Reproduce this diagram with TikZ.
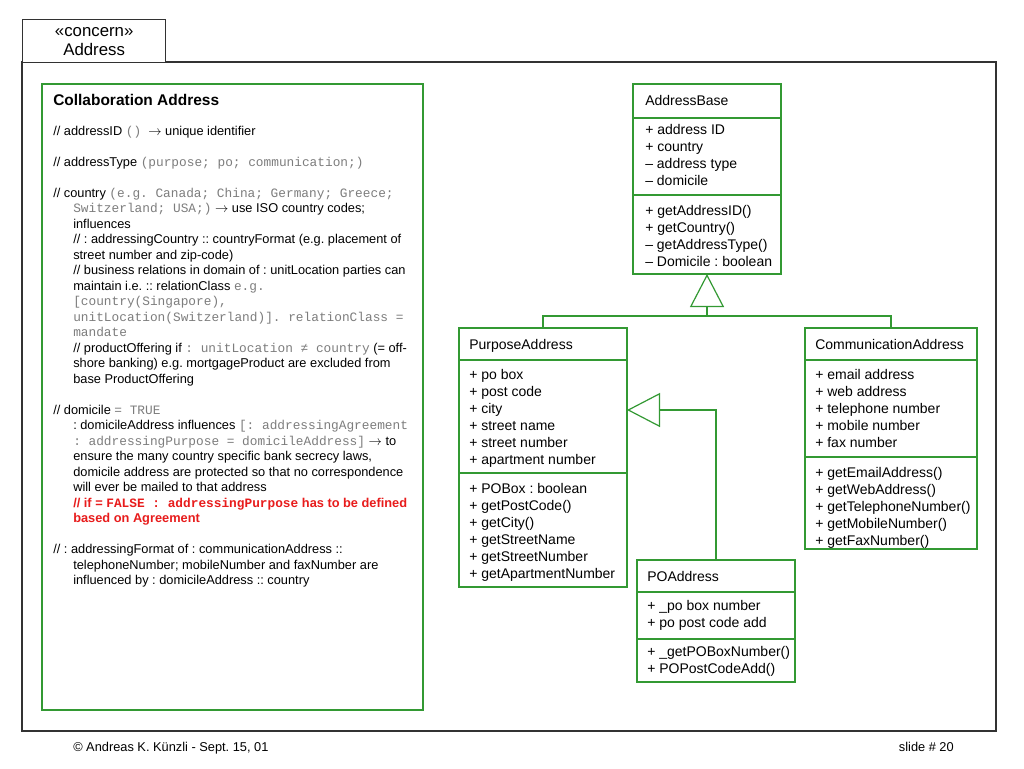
\documentclass[tikz,border=0pt]{standalone}
\usepackage{fontspec}
\setmainfont{Liberation Sans}
\setmonofont{Liberation Mono}
\usetikzlibrary{arrows.meta}
\frenchspacing
\definecolor{umlgreen}{RGB}{51,153,51}
\definecolor{monogray}{RGB}{125,125,125}
\definecolor{alertred}{RGB}{232,28,28}
\definecolor{framegray}{RGB}{50,50,50}
\newcommand\mo[1]{{\ttfamily\fontsize{9.6}{11}\selectfont\color{monogray}#1}}
\newcommand\mored[1]{{\ttfamily\bfseries\fontsize{9.6}{11}\selectfont#1}}
\newcommand\ar{\ensuremath{\rightarrow}}
\newcommand\pl[4]{\node[ptxt] (#1) at (#2,{135+15.5*#3}) {#4};}
\newcommand\ul[4]{\node[utxt] (#1) at (#2,#3) {#4};}
\begin{document}
\begin{tikzpicture}[x=0.75pt,y=-0.75pt,
  ptxt/.style={anchor=base west,inner sep=0pt,font=\fontsize{9.6}{12}\selectfont\frenchspacing},
  utxt/.style={anchor=base west,inner sep=0pt,font=\fontsize{10.5}{12.75}\selectfont},
  cls/.style={draw=umlgreen,line width=0.9pt,fill=white,anchor=north west,inner sep=0pt,outer sep=0pt},
  div/.style={draw=umlgreen,line width=0.9pt},
  conn/.style={draw=umlgreen,line width=0.9pt},
  gen/.style={conn,-{Triangle[open,length=24.75pt,width=25.5pt]}},
]
\fill[white] (0,0) rectangle (1024,768);
\useasboundingbox (0,0) rectangle (1024,768);

% frame and tab
\draw[framegray,line width=1pt] (22,62) rectangle (996,731);
\node[draw=framegray,line width=1pt,fill=white,minimum width=143*0.75pt,minimum height=43*0.75pt,
      anchor=north west,inner sep=0pt,align=center,font=\fontsize{12.6}{14.25}\selectfont]
      (tab) at (22,19) {«concern»\\Address};

% collaboration panel
\node[cls,minimum width=381*0.75pt,minimum height=626*0.75pt] (collab) at (42,84) {};
\node[anchor=base west,inner sep=0pt,font=\fontsize{11.6}{13}\selectfont\bfseries] (ctitle) at (53,105) {Collaboration Address};
\pl{p0}{53}{0}{// addressID \mo{()}\ \ \ar\ unique identifier}
\pl{p2}{53}{2}{// addressType \mo{(purpose; po; communication;)}}
\pl{p4}{53}{4}{// country \mo{(e.g. Canada; China; Germany; Greece;}}
\pl{p5}{73}{5}{\mo{Switzerland; USA;)} \ar\ use ISO country codes;}
\pl{p6}{73}{6}{influences}
\pl{p7}{73}{7}{// : addressingCountry :: countryFormat (e.g. placement of}
\pl{p8}{73}{8}{street number and zip-code)}
\pl{p9}{73}{9}{// business relations in domain of : unitLocation parties can}
\pl{p10}{73}{10}{maintain i.e. :: relationClass \mo{e.g.}}
\pl{p11}{73}{11}{\mo{[country(Singapore),}}
\pl{p12}{73}{12}{\mo{unitLocation(Switzerland)]. relationClass =}}
\pl{p13}{73}{13}{\mo{mandate}}
\pl{p14}{73}{14}{// productOffering if \mo{:\ unitLocation ≠ country} (= off-}
\pl{p15}{73}{15}{shore banking) e.g. mortgageProduct are excluded from}
\pl{p16}{73}{16}{base ProductOffering}
\pl{p18}{53}{18}{// domicile \mo{= TRUE}}
\pl{p19}{73}{19}{: domicileAddress influences \mo{[: addressingAgreement}}
\pl{p20}{73}{20}{\mo{: addressingPurpose = domicileAddress]} \ar\ to}
\pl{p21}{73}{21}{ensure the many country specific bank secrecy laws,}
\pl{p22}{73}{22}{domicile address are protected so that no correspondence}
\pl{p23}{73}{23}{will ever be mailed to that address}
\pl{p24}{73}{24}{\color{alertred}\bfseries // if = \mored{FALSE :\ addressingPurpose} has to be defined}
\pl{p25}{73}{25}{\color{alertred}\bfseries based on Agreement}
\pl{p27}{53}{27}{// : addressingFormat of : communicationAddress ::}
\pl{p28}{73}{28}{telephoneNumber; mobileNumber and faxNumber are}
\pl{p29}{73}{29}{influenced by : domicileAddress :: country}

% AddressBase
\node[cls,minimum width=148*0.75pt,minimum height=190*0.75pt] (AB) at (633,84) {};
\draw[div] (AB.west |- 0,118) -- (AB.east |- 0,118);
\draw[div] (AB.west |- 0,195) -- (AB.east |- 0,195);
\ul{ABt}{645}{105}{AddressBase}
\ul{ABa1}{645}{134}{+ address ID}
\ul{ABa2}{645}{151}{+ country}
\ul{ABa3}{645}{168}{– address type}
\ul{ABa4}{645}{185}{– domicile}
\ul{ABm1}{645}{215}{+ getAddressID()}
\ul{ABm2}{645}{232}{+ getCountry()}
\ul{ABm3}{645}{249}{– getAddressType()}
\ul{ABm4}{645}{266}{– Domicile : boolean}

% PurposeAddress
\node[cls,minimum width=168*0.75pt,minimum height=259*0.75pt] (PA) at (459,328) {};
\draw[div] (PA.west |- 0,360) -- (PA.east |- 0,360);
\draw[div] (PA.west |- 0,473) -- (PA.east |- 0,473);
\ul{PAt}{469}{349}{PurposeAddress}
\ul{PAa1}{469}{379}{+ po box}
\ul{PAa2}{469}{396}{+ post code}
\ul{PAa3}{469}{413}{+ city}
\ul{PAa4}{469}{430}{+ street name}
\ul{PAa5}{469}{447}{+ street number}
\ul{PAa6}{469}{464}{+ apartment number}
\ul{PAm1}{469}{493}{+ POBox : boolean}
\ul{PAm2}{469}{510}{+ getPostCode()}
\ul{PAm3}{469}{527}{+ getCity()}
\ul{PAm4}{469}{544}{+ getStreetName}
\ul{PAm5}{469}{561}{+ getStreetNumber}
\ul{PAm6}{469}{578}{+ getApartmentNumber}

% CommunicationAddress
\node[cls,minimum width=172*0.75pt,minimum height=221*0.75pt] (CA) at (805,328) {};
\draw[div] (CA.west |- 0,360) -- (CA.east |- 0,360);
\draw[div] (CA.west |- 0,457) -- (CA.east |- 0,457);
\ul{CAt}{815}{349}{CommunicationAddress}
\ul{CAa1}{815}{379}{+ email address}
\ul{CAa2}{815}{396}{+ web address}
\ul{CAa3}{815}{413}{+ telephone number}
\ul{CAa4}{815}{430}{+ mobile number}
\ul{CAa5}{815}{447}{+ fax number}
\ul{CAm1}{815}{477}{+ getEmailAddress()}
\ul{CAm2}{815}{494}{+ getWebAddress()}
\ul{CAm3}{815}{511}{+ getTelephoneNumber()}
\ul{CAm4}{815}{528}{+ getMobileNumber()}
\ul{CAm5}{815}{545}{+ getFaxNumber()}

% POAddress
\node[cls,minimum width=158*0.75pt,minimum height=122*0.75pt] (PO) at (637,560) {};
\draw[div] (PO.west |- 0,592) -- (PO.east |- 0,592);
\draw[div] (PO.west |- 0,639) -- (PO.east |- 0,639);
\ul{POt}{647}{581}{POAddress}
\ul{POa1}{647}{610}{+ \_po box number}
\ul{POa2}{647}{627}{+ po post code add}
\ul{POm1}{647}{656}{+ \_getPOBoxNumber()}
\ul{POm2}{647}{673}{+ POPostCodeAdd()}

% generalizations
\coordinate (J) at (707,316);
\draw[conn] (PA.north) |- (J) -| (CA.north);
\draw[gen] (J) -- (AB.south);
\coordinate (PJ) at (PO.north |- 0,410);
\draw[gen] (PO.north) -- (PJ) -- (PA.east |- PJ);

% footer
\node[anchor=base west,inner sep=0pt,font=\fontsize{9.6}{11}\selectfont] (foot) at (73,751) {© Andreas K. Künzli - Sept. 15, 01};
\node[anchor=base east,inner sep=0pt,font=\fontsize{9.6}{11}\selectfont] (slide) at (954,751) {slide \# 20};
\end{tikzpicture}
\end{document}
